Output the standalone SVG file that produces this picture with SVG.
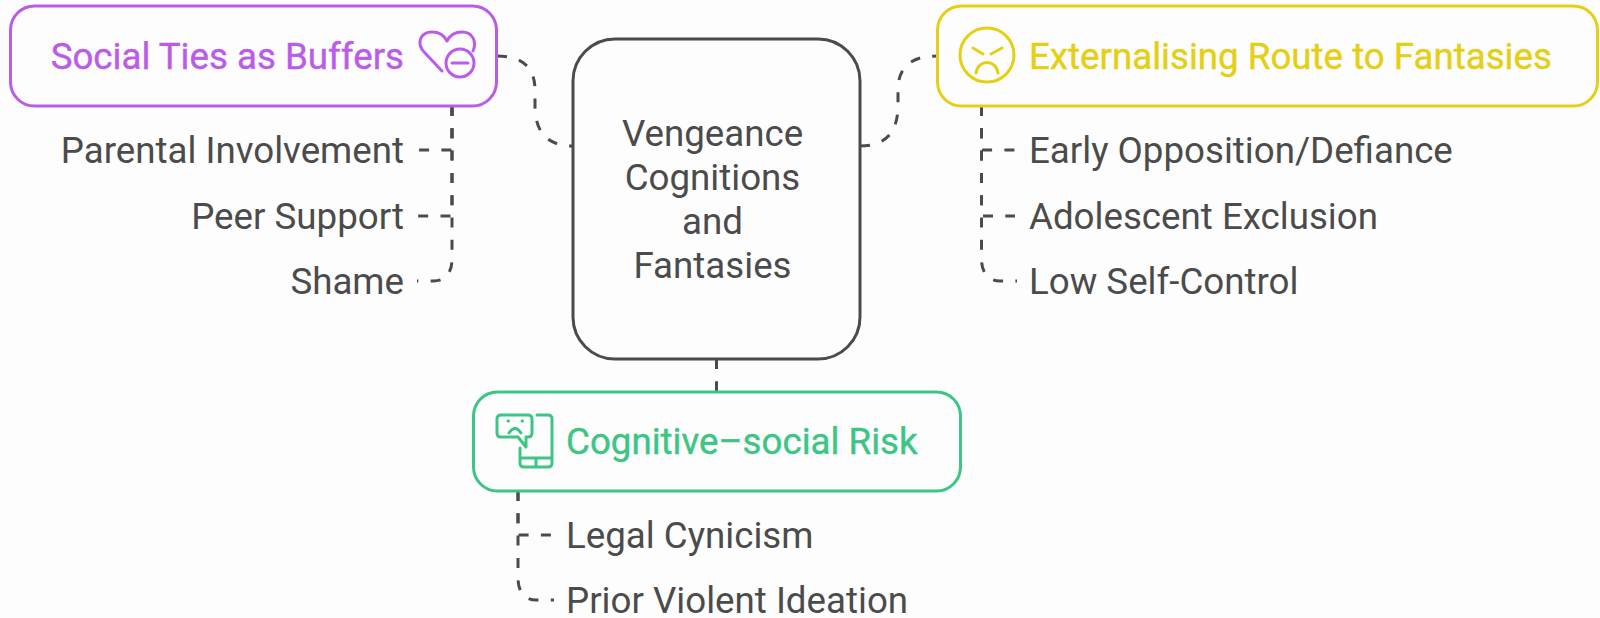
<svg xmlns="http://www.w3.org/2000/svg" width="1600" height="618" viewBox="0 0 1600 618">
<style>
text{font-family:Roboto,"Liberation Sans",sans-serif;font-size:36.7px;fill:#4b4b4b}
.c{text-anchor:middle}.e{text-anchor:end}
.h{stroke-width:.4px}
.box{fill:none;stroke-width:3}
.ic{fill:none;stroke-width:3;stroke-linecap:round;stroke-linejoin:round}
.p{stroke:#bb5ce8}.y{stroke:#e5cf14}.g{stroke:#3cc584}
.lk{fill:none;stroke:#4b4b4b;stroke-width:3;stroke-dasharray:10 12.3}
</style>
<rect width="1600" height="618" fill="#fdfdfd"/>
<g id="connectors">
<path class="lk" d="M497,56C525,56 535,70 535,90V105C535,130 545,146 573,146"/>
<path class="lk" d="M860,146C888,146 898,130 898,105V90C898,70 908,56 937,56"/>
<path class="lk" d="M716.5,359V391"/>
<path class="lk" d="M452,106V150H417"/>
<path class="lk" d="M452,106V216H417"/>
<path class="lk" d="M452,106V259C452,272 446,281 434,281H417"/>
<path class="lk" d="M981.500,106V150H1015"/>
<path class="lk" d="M981.500,106V216H1015"/>
<path class="lk" d="M981.500,106V259C981.500,272 988,281 1000,281H1017"/>
<path class="lk" d="M518,491V535H552"/>
<path class="lk" d="M518,491V578C518,591 524,600 536,600H554"/>
</g>
<g id="center">
<rect x="573" y="39" width="287" height="320" rx="42" fill="none" stroke="#4b4b4b" stroke-width="3"/>
<text class="c" x="712.500" y="146">Vengeance</text>
<text class="c" x="712.500" y="190">Cognitions</text>
<text class="c" x="712.500" y="234">and</text>
<text class="c" x="712.500" y="278">Fantasies</text>
</g>
<g id="social">
<rect class="box p" x="10.500" y="6" width="486" height="100" rx="24"/>
<text class="e h p" x="404" y="68.500" style="fill:#bb5ce8">Social Ties as Buffers</text>
<path class="ic p" d="M442,71L425,53C415,43 421,32 432,32C438,32 444,35 447,41C450,35 456,32 462,32C473,32 477,42 473,51"/>
<circle class="ic p" cx="460" cy="63" r="14"/>
<path class="ic p" d="M452,63H468"/>
</g>
<g id="social-items">
<text class="e" x="404" y="162.500">Parental Involvement</text>
<text class="e" x="404" y="228.500">Peer Support</text>
<text class="e" x="404" y="294">Shame</text>
</g>
<g id="externalising">
<rect class="box y" x="937.500" y="6" width="660" height="100" rx="24"/>
<circle class="ic y" cx="987" cy="55" r="27"/>
<path class="ic y" d="M973,48L983,54M1002,48L991,54M976,73C978,59 996,59 998,73"/>
<text class="h y" x="1029" y="68.500" style="fill:#e5cf14">Externalising Route to Fantasies</text>
</g>
<g id="externalising-items">
<text x="1029" y="162.500">Early Opposition/Defiance</text>
<text x="1029" y="228.500">Adolescent Exclusion</text>
<text x="1029" y="294">Low Self-Control</text>
</g>
<g id="cognitive">
<rect class="box g" x="473.500" y="392" width="487" height="99" rx="24"/>
<path class="ic g" d="M518,437H501Q497,437 497,433V419Q497,415 501,415H528Q532,415 532,419V433Q532,437 528,437H526V447L518,437"/>
<path class="ic g" d="M537,415H548Q552,415 552,419V463Q552,467 548,467H524Q520,467 520,463V448M520,458H552M536,458V467"/>
<path class="ic g" d="M508,421L508.500,421M522,421L522.500,421M509,433Q515,424 521,433"/>
<text class="h g" x="566" y="453.500" style="fill:#3cc584">Cognitive–social Risk</text>
</g>
<g id="cognitive-items">
<text x="566" y="547.500">Legal Cynicism</text>
<text x="566" y="613">Prior Violent Ideation</text>
</g>
</svg>
